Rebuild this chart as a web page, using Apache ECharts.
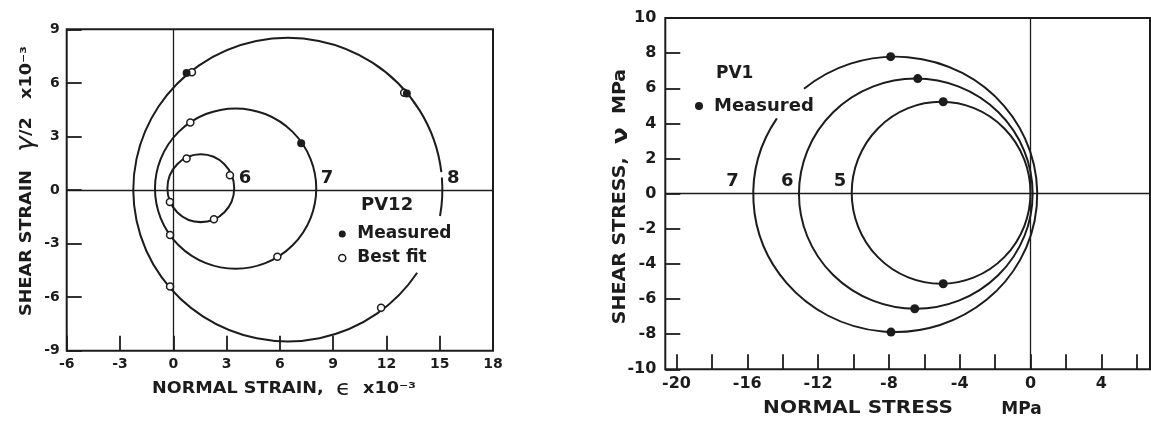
<!DOCTYPE html>
<html>
<head>
<meta charset="utf-8">
<title>Mohr circles PV12 / PV1</title>
<script src="https://cdn.jsdelivr.net/npm/echarts@6/dist/echarts.min.js"></script>
<style>
  html, body { margin: 0; padding: 0; background: #fff; }
  #chart { width: 1151px; height: 421px; }
</style>
</head>
<body>
<div id="chart"></div>
<script>
// left panel: PV12, strain circles (x10^-3)
const strainXTicks = [-6, -3, 0, 3, 6, 9, 12, 15, 18];
const strainYTicks = [-9, -6, -3, 0, 3, 6, 9];
const strainCircleNames = ['6', '7', '8'];
const strainCenterX = [1.55, 3.51, 6.45];
const strainCenterY = [0.1, 0.08, 0.02];
const strainRadiusX = [1.88, 4.54, 8.7];
const strainRadiusY = [1.9, 4.49, 8.5];
// visible parts of the circles: [circle, from deg, to deg] counter-clockwise
const strainArcs = [[0, 0, 360], [1, 0, 360], [2, 6.6, 326.8], [2, 350, 364.6]];
const strainMeasured = [[0.75, 6.55], [13.15, 5.4], [7.2, 2.62]];
const strainBestFit = [
  [1.05, 6.6], [13.0, 5.45], [-0.18, -5.4], [11.7, -6.6],
  [0.96, 3.78], [5.86, -3.74], [-0.18, -2.52],
  [0.75, 1.76], [3.19, 0.82], [-0.19, -0.67], [2.29, -1.64]
];

// right panel: PV1, stress circles (MPa)
const stressXLabels = [-20, -16, -12, -8, -4, 0, 4];
const stressXTicks = [-20, -18, -16, -14, -12, -10, -8, -6, -4, -2, 0, 2, 4, 6];
const stressYTicks = [-10, -8, -6, -4, -2, 0, 2, 4, 6, 8, 10];
const stressCircleNames = ['5', '6', '7'];
const stressCenterX = [-5.05, -6.48, -7.64];
const stressCenterY = [0.05, 0, -0.04];
const stressRadiusX = [5.05, 6.6, 8.02];
const stressRadiusY = [5.18, 6.55, 7.84];
const stressArcs = [[0, 0, 360], [1, 0, 360], [2, 146.5, 490]];
const stressMeasured = [
  [-4.93, 5.23], [-4.93, -5.13],
  [-6.37, 6.55], [-6.54, -6.55],
  [-7.9, 7.8], [-7.88, -7.88]
];

const INK = '#1c1c1c';
const FONT = 'DejaVu Sans';
const D2R = Math.PI / 180;

function arcSeries(arcs, cx, cy, rx, ry, idx) {
  return {
    type: 'custom',
    xAxisIndex: idx,
    yAxisIndex: idx,
    silent: true,
    z: 2,
    data: arcs.map(a => [cx[a[0]], cy[a[0]], rx[a[0]], ry[a[0]], a[1], a[2]]),
    renderItem: (params, api) => {
      const c = api.coord([api.value(0), api.value(1)]);
      const s = api.size([api.value(2), api.value(3)]);
      return {
        type: 'arc',
        x: c[0],
        y: c[1],
        scaleY: s[1] / s[0],
        shape: {
          cx: 0, cy: 0, r: s[0],
          startAngle: -api.value(5) * D2R,
          endAngle: -api.value(4) * D2R,
          clockwise: true
        },
        style: { stroke: INK, lineWidth: 2, fill: 'none' }
      };
    }
  };
}

// circle numbers sit next to where each circle crosses the normal axis
function circleLabels(names, cx, rx, idx, side, dx) {
  return {
    type: 'custom',
    xAxisIndex: idx,
    yAxisIndex: idx,
    silent: true,
    z: 5,
    data: names.map((n, i) => [cx[i] + side * rx[i], 0]),
    renderItem: (params, api) => {
      const p = api.coord([api.value(0), api.value(1)]);
      const i = params.dataIndex;
      return {
        type: 'text',
        x: p[0] + dx[i],
        y: p[1] - 12,
        style: {
          text: names[i],
          fill: INK,
          font: 'bold 18px ' + FONT,
          textAlign: side > 0 ? 'left' : 'right',
          textVerticalAlign: 'middle'
        }
      };
    }
  };
}

const zeroLines = {
  silent: true,
  symbol: ['none', 'none'],
  label: { show: false },
  lineStyle: { color: INK, width: 1.3, type: 'solid' },
  data: [{ xAxis: 0 }, { yAxis: 0 }]
};

function axisCommon(fontSize, margin) {
  return {
    type: 'value',
    splitLine: { show: false },
    axisLine: { show: false, onZero: false },
    axisTick: { show: true, inside: true, length: 15, lineStyle: { color: INK, width: 1.8 } },
    axisLabel: { color: INK, fontSize: fontSize, fontWeight: 'bold', fontFamily: FONT, margin: margin }
  };
}

// axis titles, slightly stretched to imitate the wide lettering of the original
function title(text, x, y, size, stretch, vertical, rich) {
  return {
    type: 'text',
    x: x,
    y: y,
    rotation: vertical ? Math.PI / 2 : 0,
    scaleX: stretch,
    style: {
      text: text,
      font: 'bold ' + size + 'px ' + FONT,
      fill: INK,
      textAlign: 'center',
      textVerticalAlign: 'middle',
      rich: rich
    }
  };
}

const chart = echarts.init(document.getElementById('chart'), null, { renderer: 'canvas' });

const option = {
  animation: false,
  backgroundColor: '#fff',
  textStyle: { fontFamily: FONT },
  grid: [
    { left: 66.7, top: 29.3, width: 426.3, height: 321.4, show: true, borderColor: INK, borderWidth: 2 },
    { left: 665.3, top: 18, width: 484.7, height: 351.3, show: true, borderColor: INK, borderWidth: 2 }
  ],
  xAxis: [
    Object.assign(axisCommon(14, 7), {
      gridIndex: 0,
      min: strainXTicks[0],
      max: strainXTicks[strainXTicks.length - 1],
      interval: 3
    }),
    (function () {
      const a = axisCommon(16, 7);
      a.gridIndex = 1;
      a.min = -20.63;
      a.max = 6.75;
      a.axisTick.customValues = stressXTicks;
      a.axisLabel.customValues = stressXLabels;
      return a;
    })()
  ],
  yAxis: [
    Object.assign(axisCommon(14, 7), {
      gridIndex: 0,
      min: strainYTicks[0],
      max: strainYTicks[strainYTicks.length - 1],
      interval: 3
    }),
    Object.assign(axisCommon(16, 9), {
      gridIndex: 1,
      min: stressYTicks[0],
      max: stressYTicks[stressYTicks.length - 1],
      interval: 2
    })
  ],
  legend: [
    {
      orient: 'vertical',
      left: 333,
      top: 219,
      itemWidth: 20,
      itemHeight: 7,
      itemGap: 4,
      selectedMode: false,
      textStyle: { color: INK, fontSize: 17, fontWeight: 'bold', fontFamily: FONT, lineHeight: 20 },
      data: [
        { name: 'Measured', icon: 'circle', itemStyle: { color: INK, borderWidth: 0 } },
        { name: 'Best fit', icon: 'circle', itemStyle: { color: '#fff', borderColor: INK, borderWidth: 1.5 } }
      ]
    },
    {
      orient: 'vertical',
      left: 690,
      top: 91,
      itemWidth: 20,
      itemHeight: 8,
      selectedMode: false,
      textStyle: { color: INK, fontSize: 18, fontWeight: 'bold', fontFamily: FONT, lineHeight: 20 },
      data: [{ name: 'Measured', icon: 'circle', itemStyle: { color: INK, borderWidth: 0 } }]
    }
  ],
  graphic: [
    title('SHEAR STRAIN   {g|γ}/2   x10⁻³', 27, 181, 16, 1.1, true,
      { g: { font: 'italic 24px ' + FONT, fill: INK } }),
    title('NORMAL STRAIN,  {e|ϵ}  x10⁻³', 284, 389, 16, 1.1, false,
      { e: { font: '22px ' + FONT, fill: INK } }),
    title('SHEAR STRESS,  {g|ν}  MPa', 621, 196.5, 17, 1.12, true,
      { g: { font: 'bold 22px ' + FONT, fill: INK } }),
    title('NORMAL STRESS', 858, 408.5, 17, 1.18, false),
    title('MPa', 1021.5, 410, 17, 1, false),
    {
      type: 'text', x: 361, y: 205,
      style: { text: 'PV12', font: 'bold 18px ' + FONT, fill: INK, textAlign: 'left', textVerticalAlign: 'middle' }
    },
    {
      type: 'text', x: 716, y: 74,
      style: { text: 'PV1', font: 'bold 17px ' + FONT, fill: INK, textAlign: 'left', textVerticalAlign: 'middle' }
    }
  ],
  series: [
    arcSeries(strainArcs, strainCenterX, strainCenterY, strainRadiusX, strainRadiusY, 0),
    circleLabels(strainCircleNames, strainCenterX, strainRadiusX, 0, 1, [4.5, 4.5, 4.5]),
    {
      name: 'Best fit',
      type: 'scatter',
      xAxisIndex: 0,
      yAxisIndex: 0,
      symbol: 'circle',
      symbolSize: 7,
      z: 3,
      silent: true,
      itemStyle: { color: '#fff', borderColor: INK, borderWidth: 1.5, opacity: 1 },
      data: strainBestFit,
      markLine: zeroLines
    },
    {
      name: 'Measured',
      type: 'scatter',
      xAxisIndex: 0,
      yAxisIndex: 0,
      symbol: 'circle',
      symbolSize: 8,
      z: 4,
      silent: true,
      itemStyle: { color: INK, opacity: 1 },
      data: strainMeasured
    },
    arcSeries(stressArcs, stressCenterX, stressCenterY, stressRadiusX, stressRadiusY, 1),
    circleLabels(stressCircleNames, stressCenterX, stressRadiusX, 1, -1, [-5.5, -5.5, -14.5]),
    {
      name: 'Measured',
      type: 'scatter',
      xAxisIndex: 1,
      yAxisIndex: 1,
      symbol: 'circle',
      symbolSize: 9,
      z: 4,
      silent: true,
      itemStyle: { color: INK, opacity: 1 },
      data: stressMeasured,
      markLine: zeroLines
    }
  ]
};

chart.setOption(option);
</script>
</body>
</html>
